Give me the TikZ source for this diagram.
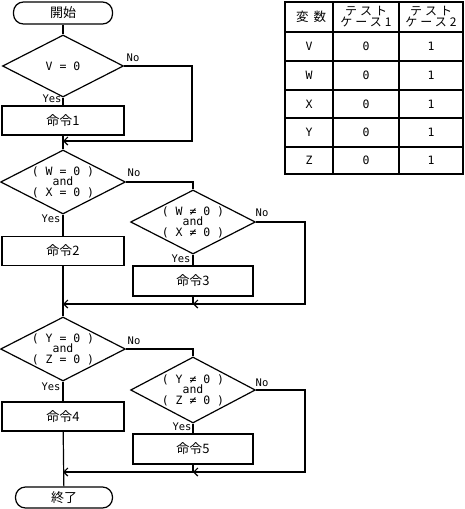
\documentclass[tikz,border=0pt]{standalone}
\usepackage{fontspec}
\newfontfamily\jp{Noto Sans CJK JP}
\newfontfamily\jpsp[LetterSpace=25]{Noto Sans CJK JP}
\newfontfamily\lat{DejaVu Sans Mono}
\usetikzlibrary{shapes.geometric,arrows.meta}
\begin{document}
\begin{tikzpicture}[x=1pt,y=-1pt,
 line width=1.2pt,
 every node/.style={inner sep=0pt},
 term/.style={draw,rounded corners=10pt,minimum width=99pt,minimum height=22pt,font=\jp\fontsize{13}{13}\selectfont},
 proc/.style={draw,minimum width=122pt,minimum height=29pt,font=\jp\fontsize{13}{13}\selectfont},
 dec/.style={draw,diamond,aspect=2,minimum width=121pt,minimum height=64pt,align=center,font=\lat\fontsize{11.5}{10.5}\selectfont},
 lab/.style={font=\lat\fontsize{10.5}{10.5}\selectfont},
 arr/.style={-{Straight Barb[length=4pt,width=8pt]}},
 cell/.style={font=\lat\fontsize{11.5}{11.5}\selectfont},
 head/.style={font=\jpsp\fontsize{12}{11}\selectfont,align=center},
 tline/.style={line width=1.5pt}
]
\useasboundingbox (0,0) rectangle (465,509);
% flowchart nodes
\node[term] (start) at (63,13) {開始};
\node[dec,minimum height=62pt] (d1) at (63,66) {V = 0};
\node[proc] (b1) at (63,120.5) {命令1};
\coordinate (m1) at (63,141);
\coordinate (c1) at (192,141);
\node[dec] (d2) at (63,182) {( W = 0 )\\and\\( X = 0 )};
\node[proc] (b2) at (63,251) {命令2};
\node[dec] (d3) at (193,222) {( W ≠ 0 )\\and\\( X ≠ 0 )};
\node[proc,minimum width=120pt,minimum height=30pt] (b3) at (193,281) {命令3};
\coordinate (m3) at (193,304);
\coordinate (c3) at (305,304);
\coordinate (m2) at (63,304);
\node[dec] (d4) at (63,349) {( Y = 0 )\\and\\( Z = 0 )};
\node[proc] (b4) at (63,416.5) {命令4};
\node[dec,minimum height=66pt] (d5) at (193,390) {( Y ≠ 0 )\\and\\( Z ≠ 0 )};
\node[proc,minimum width=120pt,minimum height=30pt] (b5) at (193,449) {命令5};
\coordinate (m5) at (193,472);
\coordinate (c5) at (305,472);
\coordinate (m4) at (63,472);
\node[term,minimum width=97pt,minimum height=21pt] (end) at (64,497.5) {終了};
% labels
\node[lab] (no1) at (133,58) {No};
\node[lab] (yes1) at (52,99) {Yes};
\node[lab] (no2) at (134,173) {No};
\node[lab] (yes2) at (51,219) {Yes};
\node[lab] (no3) at (262,213) {No};
\node[lab] (yes3) at (181,259) {Yes};
\node[lab] (no4) at (134,341) {No};
\node[lab] (yes4) at (51,387) {Yes};
\node[lab] (no5) at (262,383) {No};
\node[lab] (yes5) at (182,427) {Yes};
% connectors
\draw (start) -- (d1);
\draw (d1) -- (b1);
\draw[arr] (d1.east) -| (c1) -- (m1);
\draw (b1) -- (d2);
\draw (d2) -- (b2);
\draw (d2.east) -| (d3.north);
\draw (d3) -- (b3);
\draw[arr] (d3.east) -| (c3) -- (m3);
\draw[arr] (b3.south) |- (m2);
\draw (b2) -- (d4);
\draw (d4) -- (b4);
\draw (d4.east) -| (d5.north);
\draw (d5) -- (b5);
\draw[arr] (d5.east) -| (c5) -- (m5);
\draw[arr] (b5.south) |- (m4);
\draw (b4) -- (end);
% table
\draw[tline] (285,2) rectangle (463,174);
\foreach \yy in {32,61,90,118,147} \draw[tline] (285,\yy) -- (463,\yy);
\foreach \xx in {333,399} \draw[tline] (\xx,2) -- (\xx,174);
\node[head,font=\jp\fontsize{12.5}{12}\selectfont] (h1) at (311,17) {変\hspace{5pt}数};
\node[head] (h2) at (366,17) {テスト\\ケース1};
\node[head] (h3) at (431,17) {テスト\\ケース2};
\foreach \v/\yy in {V/46.5,W/75.5,X/104,Y/132.5,Z/160.5} {
  \node[cell] (r\v a) at (309,\yy) {\v};
  \node[cell] (r\v b) at (366,\yy) {0};
  \node[cell] (r\v c) at (431,\yy) {1};
}
\end{tikzpicture}
\end{document}
